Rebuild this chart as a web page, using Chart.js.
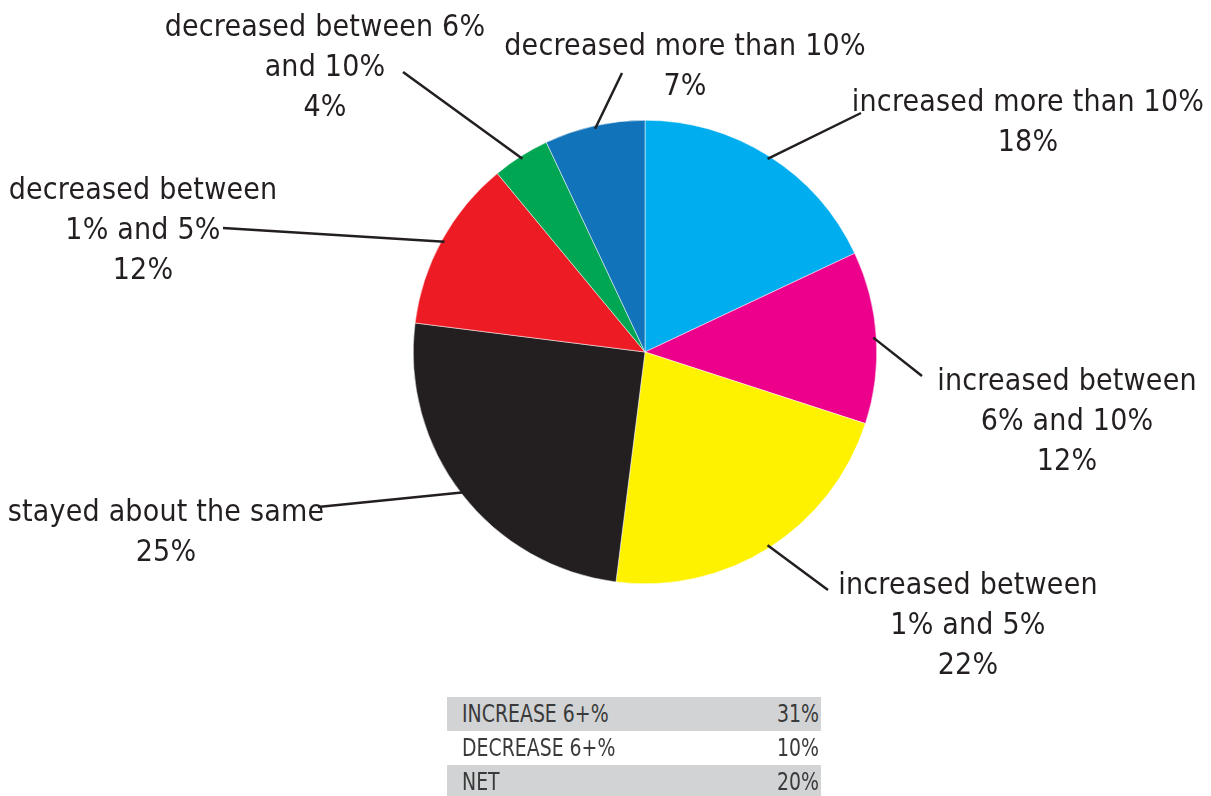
<!DOCTYPE html>
<html>
<head>
<meta charset="utf-8">
<script src="https://cdn.jsdelivr.net/npm/chart.js@4"></script>
<style>
  html, body { margin: 0; padding: 0; background: #fff; }
  #wrap { position: relative; width: 1211px; height: 796px; overflow: hidden; }
  #chart-box { position: absolute; left: 0; top: 0; width: 1211px; height: 796px; }
  #summary {
    position: absolute; left: 447px; top: 697px; width: 374px;
    border-collapse: collapse;
    font-family: "DejaVu Sans Condensed", "Liberation Sans Narrow", sans-serif;
    font-size: 25px; color: #3a3a3a;
  }
  #summary td { padding: 0 2px 0 15px; height: 34px; line-height: 34px; white-space: nowrap; }
  #summary td.val { text-align: right; padding: 0 2px 0 0; }
  #summary td span { display: inline-block; transform: scaleX(0.84); transform-origin: left center; }
  #summary td.val span { transform-origin: right center; }
  #summary tr.shade td { background: #d1d3d4; }
</style>
</head>
<body>
<div id="wrap">
  <div id="chart-box"><canvas id="pie"></canvas></div>
  <table id="summary"><tbody></tbody></table>
</div>
<script>
// slice labels (one entry per line), clockwise from 12 o'clock
const categories = [
    ['increased more than 10%'],
    ['increased between', '6% and 10%'],
    ['increased between', '1% and 5%'],
    ['stayed about the same'],
    ['decreased between', '1% and 5%'],
    ['decreased between 6%', 'and 10%'],
    ['decreased more than 10%']
];
const shares = [18, 12, 22, 25, 12, 4, 7];
const sliceColors = ['#00aeef', '#ec008c', '#fff200', '#231f20', '#ed1c24', '#00a651', '#1173ba'];

const summaryLabels = ['INCREASE 6+%', 'DECREASE 6+%', 'NET'];
const summaryValues = ['31%', '10%', '20%'];

// where each label block sits: centre x, first baseline y, and the outer end of its leader line
const labelLayout = [
    { x: 1028, y: 111, end: [861, 113] },
    { x: 1067, y: 390, end: [922, 376] },
    { x: 968,  y: 594, end: [828, 590] },
    { x: 166,  y: 521, end: [318, 507] },
    { x: 143,  y: 199, end: [223, 228] },
    { x: 325,  y: 36,  end: [403, 72] },
    { x: 685,  y: 55,  end: [622, 73] }
];
const LINE_GAP = 40;

const tbody = document.querySelector('#summary tbody');
summaryLabels.forEach((label, i) => {
    const tr = document.createElement('tr');
    if (i !== 1) tr.className = 'shade';
    tr.innerHTML = `<td><span>${label}</span></td><td class="val"><span>${summaryValues[i]}</span></td>`;
    tbody.appendChild(tr);
});

const calloutPlugin = {
    id: 'callouts',
    afterDraw(chart) {
        const ctx = chart.ctx;
        const arcs = chart.getDatasetMeta(0).data;
        ctx.save();
        ctx.strokeStyle = '#231f20';
        ctx.lineWidth = 2.5;
        ctx.fillStyle = '#231f20';
        ctx.font = '30px "DejaVu Sans Condensed", "Liberation Sans Narrow", sans-serif';
        ctx.letterSpacing = '0.2px';
        ctx.textAlign = 'center';
        ctx.textBaseline = 'alphabetic';

        arcs.forEach((arc, i) => {
            const p = arc.getProps(['x', 'y', 'startAngle', 'endAngle', 'outerRadius'], true);
            const mid = (p.startAngle + p.endAngle) / 2;
            const sx = p.x + Math.cos(mid) * (p.outerRadius - 3);
            const sy = p.y + Math.sin(mid) * (p.outerRadius - 3);
            const lay = labelLayout[i];

            ctx.beginPath();
            ctx.moveTo(sx, sy);
            ctx.lineTo(lay.end[0], lay.end[1]);
            ctx.stroke();

            const lines = categories[i].concat([shares[i] + '%']);
            lines.forEach((line, k) => {
                ctx.fillText(line, lay.x, lay.y + k * LINE_GAP);
            });
        });
        ctx.restore();
    }
};

new Chart(document.getElementById('pie'), {
    type: 'pie',
    data: {
        labels: categories,
        datasets: [{
            data: shares,
            backgroundColor: sliceColors,
            borderColor: '#ffffff',
            borderWidth: 0.5
        }]
    },
    options: {
        responsive: true,
        maintainAspectRatio: false,
        animation: false,
        layout: { padding: { top: 120, bottom: 212, left: 413, right: 334 } },
        plugins: {
            legend: { display: false },
            tooltip: { enabled: false }
        }
    },
    plugins: [calloutPlugin]
});
</script>
</body>
</html>
